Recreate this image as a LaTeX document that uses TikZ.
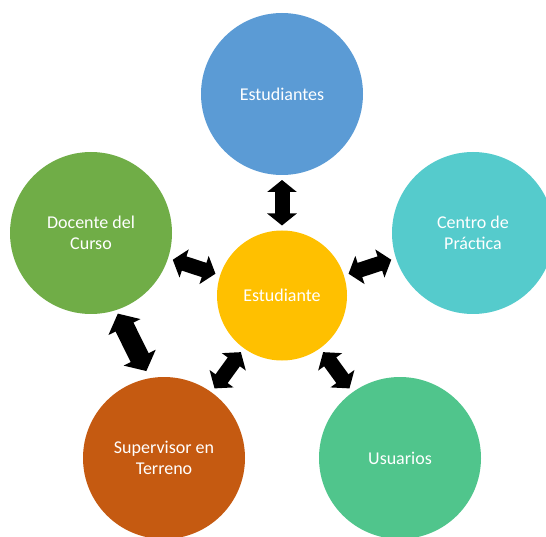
\documentclass[tikz,border=0pt]{standalone}
\usepackage{fontspec}
\setmainfont{Carlito}
\usetikzlibrary{arrows.meta}
\definecolor{azul}{HTML}{5B9BD5}
\definecolor{verde}{HTML}{70AD47}
\definecolor{turquesa}{HTML}{55CBCC}
\definecolor{oro}{HTML}{FFC000}
\definecolor{naranjo}{HTML}{C55A11}
\definecolor{menta}{HTML}{50C58C}
\begin{document}
\begin{tikzpicture}[x=1pt,y=1pt,
  circ/.style={circle,inner sep=0pt,outer sep=0pt,minimum size=162pt,text=white,align=center,font=\fontsize{18}{21.5}\selectfont},
  flecha/.style={line width=15pt,{Triangle[length=12pt,width=29pt]}-{Triangle[length=12pt,width=29pt]},shorten <=5pt,shorten >=5pt},
  flechagrande/.style={line width=20pt,{Triangle[length=15pt,width=35pt]}-{Triangle[length=15pt,width=35pt]},shorten <=4pt,shorten >=8pt}]
\useasboundingbox (0,0) rectangle (546,536);
\clip (0,0) rectangle (546,536);
\node[circ,fill=azul] (ests) at (282,442) {Estudiantes};
\node[circ,fill=verde] (doc) at (91,303) {Docente del\\Curso};
\node[circ,fill=turquesa] (cen) at (473,303) {Centro de\\Práctica};
\node[circ,fill=naranjo] (sup) at (164,78) {Supervisor en\\Terreno};
\node[circ,fill=menta] (usu) at (400,78) {Usuarios};
\node[circ,fill=oro,minimum size=130pt] (est) at (282,240.5) {Estudiante};
\draw[flecha] (ests) -- (est);
\draw[flecha] (doc) -- (est);
\draw[flecha] (cen) -- (est);
\draw[flecha] (sup) -- (est);
\draw[flecha] (usu) -- (est);
\draw[flechagrande] (doc.-72) -- (sup.100);
\end{tikzpicture}
\end{document}
